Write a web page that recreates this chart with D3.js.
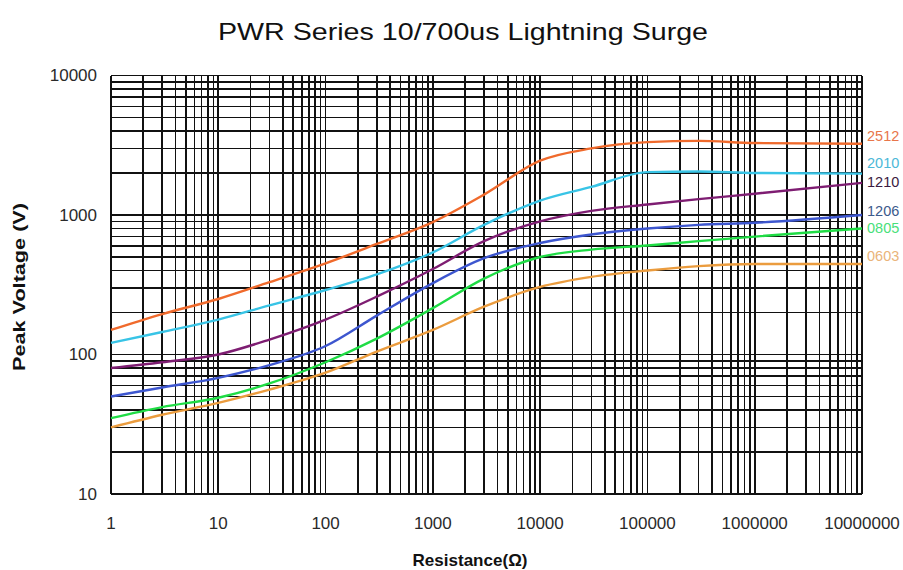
<!DOCTYPE html>
<meta charset="utf-8">
<style>
body{ margin:0; background:#fff; }
text{ font-family:"Liberation Sans", Arial, sans-serif; }
.grid line{ stroke:#111; stroke-width:1.6px; shape-rendering:crispEdges; }
.tick-lbl{ font-size:17px; fill:#2a2a2a; }
</style>
<body>
<script src="https://cdn.jsdelivr.net/npm/d3@7"></script>
<script>
// resistance values (ohm) where curves were read
var resistance = [1, 3, 10, 30, 100, 300, 1000, 3000, 10000, 30000, 100000, 300000, 1000000, 10000000];

// peak voltage per resistor size
var v2512 = [150, 195, 250, 330, 450, 620, 890, 1400, 2450, 3000, 3330, 3400, 3280, 3240];
var v2010 = [121, 145, 178, 225, 290, 375, 540, 850, 1270, 1590, 2030, 2050, 2000, 1980];
var v1210 = [80, 88, 100, 128, 178, 260, 410, 650, 900, 1070, 1190, 1300, 1420, 1700];
var v1206 = [50, 58, 68, 84, 115, 190, 325, 490, 630, 725, 800, 850, 880, 1000];
var v0805 = [35, 42, 49, 62, 88, 130, 215, 350, 500, 565, 605, 650, 700, 800];
var v0603 = [30, 37, 45, 56, 74, 105, 150, 220, 305, 360, 400, 430, 445, 445];

var seriesNames = ["2512", "2010", "1210", "1206", "0805", "0603"];
var seriesValues = [v2512, v2010, v1210, v1206, v0805, v0603];
var lineColors = ["#f06a2c", "#38c4e6", "#7e1d72", "#3d56cf", "#1fdc45", "#eb9c3e"];
var labelColors = ["#e8764a", "#4cb8d8", "#3a1a40", "#3c5a8c", "#48e07a", "#eab47a"];

var xTicks = [1, 10, 100, 1000, 10000, 100000, 1000000, 10000000];
var yTicks = [10, 100, 1000, 10000];

var W = 903, H = 570;
var m = {l:111, r:862, t:75.5, b:494};

var svg = d3.select("body").append("svg").attr("width", W).attr("height", H);

var x = d3.scaleLog().domain([1, 1e7]).range([m.l, m.r]);
var y = d3.scaleLog().domain([10, 10000]).range([m.b, m.t]);

// minor grid values 1..9 per decade
function logGrid(lo, hi){
  var out = [];
  for (var p = lo; p < hi; p *= 10)
    for (var k = 1; k < 10; k++) out.push(p * k);
  out.push(hi);
  return out;
}

var grid = svg.append("g").attr("class", "grid");
grid.selectAll("line.v").data(logGrid(1, 1e7)).enter().append("line").attr("class", "v")
  .attr("x1", function(d){ return x(d); }).attr("x2", function(d){ return x(d); })
  .attr("y1", m.t).attr("y2", m.b);
grid.selectAll("line.h").data(logGrid(10, 10000)).enter().append("line").attr("class", "h")
  .attr("y1", function(d){ return y(d); }).attr("y2", function(d){ return y(d); })
  .attr("x1", m.l).attr("x2", m.r);

// curves
var line = d3.line()
  .x(function(d){ return x(d[0]); })
  .y(function(d){ return y(d[1]); })
  .curve(d3.curveMonotoneX);

seriesValues.forEach(function(vals, i){
  svg.append("path")
    .datum(resistance.map(function(r, j){ return [r, vals[j]]; }))
    .attr("d", line)
    .attr("fill", "none")
    .attr("stroke", lineColors[i])
    .attr("stroke-width", 2.4)
    .attr("stroke-linejoin", "round");
});

// end labels (nudged to avoid overlap)
var labelNudge = [-8, -11, -1, -4, -1, -8];
seriesValues.forEach(function(vals, i){
  svg.append("text")
    .attr("x", m.r + 5)
    .attr("y", y(vals[vals.length - 1]) + labelNudge[i])
    .attr("dy", "0.35em")
    .attr("font-size", 14.5)
    .attr("fill", labelColors[i])
    .text(seriesNames[i]);
});

// tick labels
svg.selectAll("text.xt").data(xTicks).enter().append("text").attr("class", "tick-lbl")
  .attr("x", function(d){ return x(d); }).attr("y", 529)
  .attr("text-anchor", "middle").text(function(d){ return d; });
svg.selectAll("text.yt").data(yTicks).enter().append("text").attr("class", "tick-lbl")
  .attr("x", 97).attr("y", function(d){ return y(d); }).attr("dy", "0.35em")
  .attr("text-anchor", "end").text(function(d){ return d; });

// titles
svg.append("text").attr("x", 463).attr("y", 40).attr("text-anchor", "middle")
  .attr("font-size", 24).attr("fill", "#111")
  .attr("textLength", 490).attr("lengthAdjust", "spacingAndGlyphs")
  .text("PWR Series 10/700us Lightning Surge");
svg.append("text").attr("x", 470).attr("y", 566).attr("text-anchor", "middle")
  .attr("font-size", 17).attr("font-weight", "bold").attr("fill", "#111")
  .attr("textLength", 115).attr("lengthAdjust", "spacingAndGlyphs")
  .text("Resistance(Ω)");
svg.append("text").attr("transform", "translate(25,287) rotate(-90)").attr("text-anchor", "middle")
  .attr("font-size", 17).attr("font-weight", "bold").attr("fill", "#111")
  .attr("textLength", 168).attr("lengthAdjust", "spacingAndGlyphs")
  .text("Peak Voltage (V)");
</script>
</body>
